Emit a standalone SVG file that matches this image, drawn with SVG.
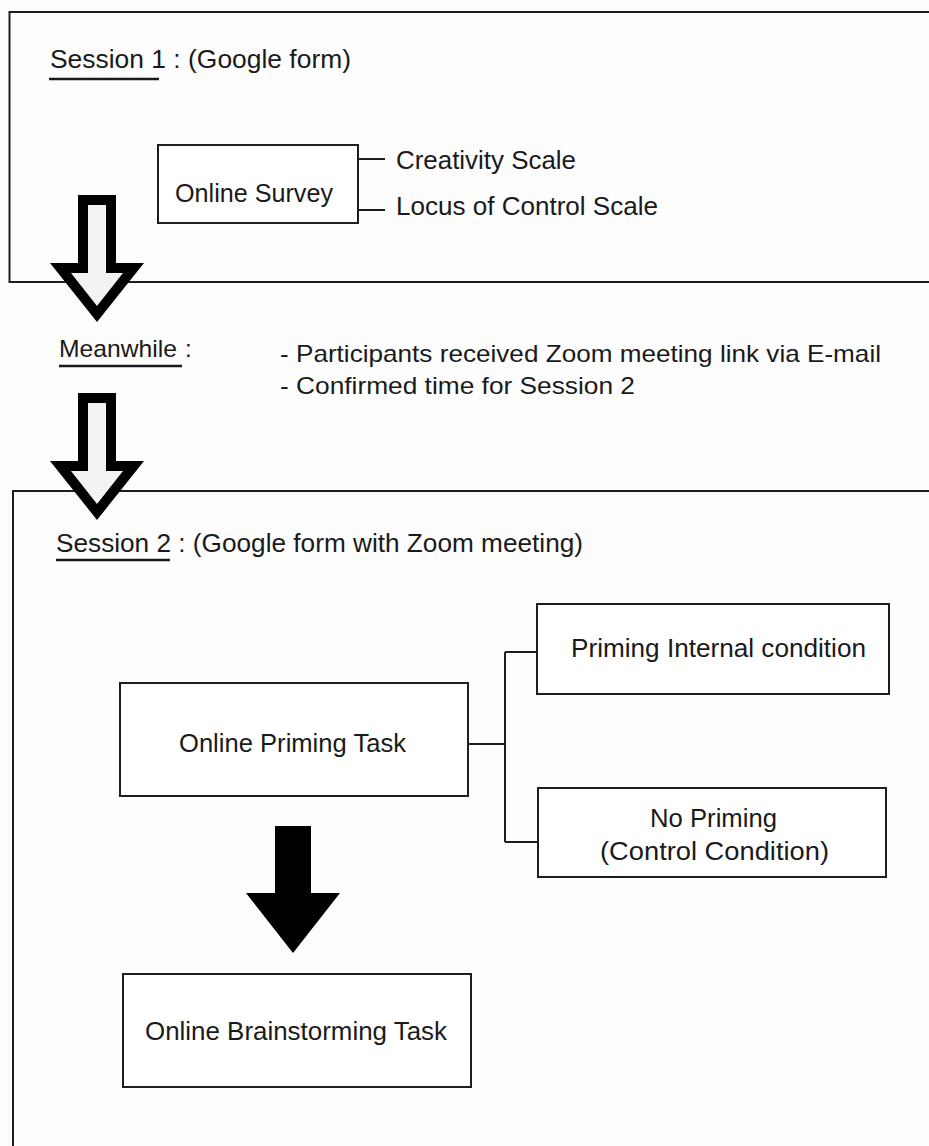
<svg xmlns="http://www.w3.org/2000/svg" width="929" height="1146" viewBox="0 0 929 1146">
<style>
.bg{fill:#fdfdfd}
.frame{fill:none;stroke:#1e1e1e;stroke-width:2}
.box{fill:#ffffff;stroke:#1e1e1e;stroke-width:2}
.t{font-family:"Liberation Sans",Arial,sans-serif;font-size:26px;fill:#1a1a1a}
.ul{stroke:#1a1a1a;stroke-width:2.5}
.conn{fill:none;stroke:#1e1e1e;stroke-width:2}
.hollowOut{fill:#000}
.hollowIn{fill:#f3f3f3}
</style>
<rect class="bg" x="0" y="0" width="929" height="1146"/>

<g id="session1">
  <rect class="frame" x="9.5" y="12" width="940" height="270"/>
  <text class="t" x="50" y="68" textLength="301" lengthAdjust="spacingAndGlyphs">Session 1 : (Google form)</text>
  <line class="ul" x1="49" y1="79" x2="159" y2="79"/>
</g>

<g id="online-survey">
  <rect class="box" x="158" y="145" width="200" height="78"/>
  <text class="t" x="175" y="202" textLength="158" lengthAdjust="spacingAndGlyphs">Online Survey</text>
</g>
<g id="creativity-scale">
  <text class="t" x="396" y="169" textLength="180" lengthAdjust="spacingAndGlyphs">Creativity Scale</text>
</g>
<g id="locus-scale">
  <text class="t" x="396" y="215" textLength="262" lengthAdjust="spacingAndGlyphs">Locus of Control Scale</text>
</g>

<g id="meanwhile">
  <text class="t" x="59" y="357" textLength="118" lengthAdjust="spacingAndGlyphs" style="font-size:24px">Meanwhile</text>
  <text class="t" x="185" y="357" style="font-size:24px">:</text>
  <line class="ul" x1="59" y1="366" x2="182" y2="366"/>
  <text class="t" x="280" y="362" textLength="601" lengthAdjust="spacingAndGlyphs" style="font-size:24px">- Participants received Zoom meeting link via E-mail</text>
  <text class="t" x="280" y="394" textLength="355" lengthAdjust="spacingAndGlyphs" style="font-size:24px">- Confirmed time for Session 2</text>
</g>

<g id="session2">
  <rect class="frame" x="13" y="491" width="940" height="700"/>
  <text class="t" x="56" y="552" textLength="527" lengthAdjust="spacingAndGlyphs">Session 2 : (Google form with Zoom meeting)</text>
  <line class="ul" x1="56" y1="560" x2="170" y2="560"/>
</g>

<g id="priming-internal">
  <rect class="box" x="537" y="604" width="352" height="90"/>
  <text class="t" x="571" y="657" textLength="295" lengthAdjust="spacingAndGlyphs">Priming Internal condition</text>
</g>
<g id="online-priming-task">
  <rect class="box" x="120" y="683" width="348" height="113"/>
  <text class="t" x="179" y="752" textLength="227" lengthAdjust="spacingAndGlyphs">Online Priming Task</text>
</g>
<g id="no-priming">
  <rect class="box" x="538" y="788" width="348" height="89"/>
  <text class="t" x="650" y="827" textLength="127" lengthAdjust="spacingAndGlyphs">No Priming</text>
  <text class="t" x="600" y="860" textLength="229" lengthAdjust="spacingAndGlyphs">(Control Condition)</text>
</g>
<g id="online-brainstorming-task">
  <rect class="box" x="123" y="974" width="348" height="113"/>
  <text class="t" x="145" y="1040" textLength="302" lengthAdjust="spacingAndGlyphs">Online Brainstorming Task</text>
</g>

<g id="connectors">
  <path class="conn" d="M358,159 H385 M358,210 H385"/>
  <path class="conn" d="M468,744 H505 M505,652 V842 M505,652 H537 M505,842 H539"/>
  <g id="arrow1">
    <polygon class="hollowOut" points="78,195 116,195 116,263 144,263 97,322 50,263 78,263"/>
    <polygon class="hollowIn" points="88,205 106,205 106,273 123,273 97,306 71,273 88,273"/>
  </g>
  <g id="arrow2">
    <polygon class="hollowOut" points="78,393 116,393 116,461 144,461 97,520 50,461 78,461"/>
    <polygon class="hollowIn" points="88,403 106,403 106,471 123,471 97,504 71,471 88,471"/>
  </g>
  <polygon id="arrow3" fill="#000" points="275,826 311,826 311,893 340,893 293,953 246,893 275,893"/>
</g>
</svg>
